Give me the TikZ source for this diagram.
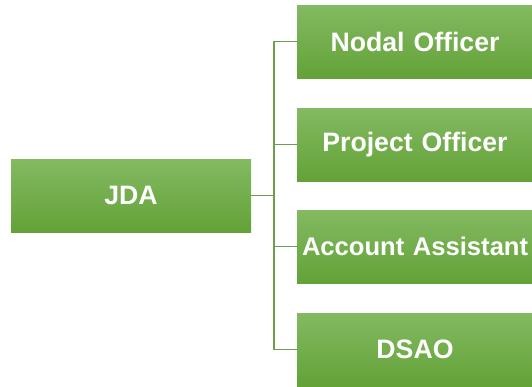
\documentclass[tikz,border=0pt]{standalone}
\usepackage{fontspec}
\setmainfont{Liberation Sans}
\definecolor{boxtop}{RGB}{131,186,98}
\definecolor{boxbot}{RGB}{99,162,55}
\definecolor{linkgreen}{RGB}{112,156,78}

\begin{document}
\begin{tikzpicture}[x=0.75pt,y=-0.75pt]

      \useasboundingbox (0,0) rectangle (532,386);

      \begin{scope}[every node/.style={rectangle,top color=boxtop,bottom color=boxbot,
          text=white,font=\bfseries\fontsize{20}{24}\selectfont,inner xsep=3.75pt,
          minimum height=54.75pt,align=center}]
        \node[text width=172.5pt] (jda)     at (131,195.5) {JDA};
        \node[text width=169.5pt] (nodal)   at (415,41.5)  {Nodal Officer};
        \node[text width=169.5pt] (project) at (415,144.5) {Project Officer};
        \node[text width=169.5pt,font=\bfseries\fontsize{19.2}{24}\selectfont]
                                  (account) at (415,246.5) {\mbox{Account Assistant}};
        \node[text width=169.5pt] (dsao)    at (415,349.5) {DSAO};
      \end{scope}

      \coordinate (trunk) at (274,195.5);

      \begin{scope}[every path/.style={draw=linkgreen,line width=1.1pt}]
        \path (jda)  -- (trunk);
        \path (trunk) |- (nodal);
        \path (trunk) |- (project);
        \path (trunk) |- (account);
        \path (trunk) |- (dsao);
      \end{scope}

    \end{tikzpicture}
\end{document}
